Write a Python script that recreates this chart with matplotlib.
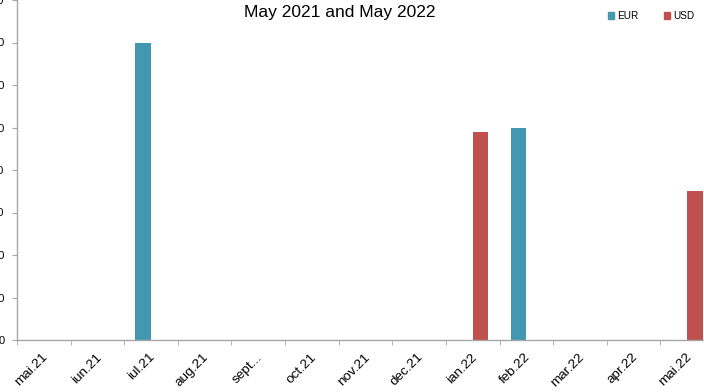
import matplotlib
matplotlib.use("Agg")
import matplotlib.pyplot as plt
import matplotlib.transforms as mtransforms
import numpy as np
from matplotlib.patches import Patch

plt.rcParams['font.family'] = ['Liberation Sans', 'DejaVu Sans']

months = ["mai.21", "iun.21", "iul.21", "aug.21", "sept...", "oct.21", "nov.21",
          "dec.21", "ian.22", "feb.22", "mar.22", "apr.22", "mai.22"]
eur = [0, 0, 70, 0, 0, 0, 0, 0, 0, 50, 0, 0, 0]
usd = [0, 0, 0, 0, 0, 0, 0, 0, 49, 0, 0, 0, 35]
yticks = [0, 10, 20, 30, 40, 50, 60, 70, 80]

eur_col = "#4298B0"
usd_col = "#C0504D"
axis_col = "#A6A6A6"

W, H = 704, 392
fig = plt.figure(figsize=(W / 100, H / 100), dpi=100)
# plot area is cropped by the figure edges on left, top and right
ax = fig.add_axes([17 / W, 52 / H, 697 / W, 340 / H])

x = np.arange(len(months))
bw = 0.29
ax.bar(x - bw / 2, eur, bw, color=eur_col, label="EUR")
ax.bar(x + bw / 2, usd, bw, color=usd_col, label="USD")

ax.set_xlim(-0.5, len(months) - 0.5)
ax.set_ylim(0, 80)
ax.set_yticks(yticks)
ax.set_yticklabels([str(v) for v in yticks])

ax.set_xticks(x)
ax.set_xticklabels(months)
ax.set_xticks(np.arange(-0.5, len(months)), minor=True)
ax.tick_params(axis="x", which="major", length=0, pad=3, labelsize=9.7,
               labelrotation=45)
ax.tick_params(axis="x", which="minor", length=3.6, color=axis_col, direction="out")
ax.tick_params(axis="y", length=3.6, color=axis_col, pad=5.5, labelsize=8)
shift = mtransforms.ScaledTranslation(-2 / 100, -7 / 100, fig.dpi_scale_trans)
for lbl in ax.get_xticklabels():
    lbl.set_ha("right")
    lbl.set_va("top")
    lbl.set_rotation_mode("anchor")
    lbl.set_transform(lbl.get_transform() + shift)

for s in ["top", "right"]:
    ax.spines[s].set_visible(False)
for s in ["left", "bottom"]:
    ax.spines[s].set_color(axis_col)
    ax.spines[s].set_linewidth(1.0)

fig.text(340 / W, 1 - 17 / H, "May 2021 and May 2022", ha="center",
         va="baseline", fontsize=12.5)

handles = [Patch(color=eur_col, label="EUR"), Patch(color=usd_col, label="USD")]
fig.legend(handles=handles, loc="center left", bbox_to_anchor=(608 / W, 1 - 16 / H),
           ncol=2, frameon=False, fontsize=7.2, handlelength=0.6, handleheight=0.6,
           handletextpad=0.3, columnspacing=2.6, borderpad=0, borderaxespad=0)

fig.savefig("out.png", dpi=100)
